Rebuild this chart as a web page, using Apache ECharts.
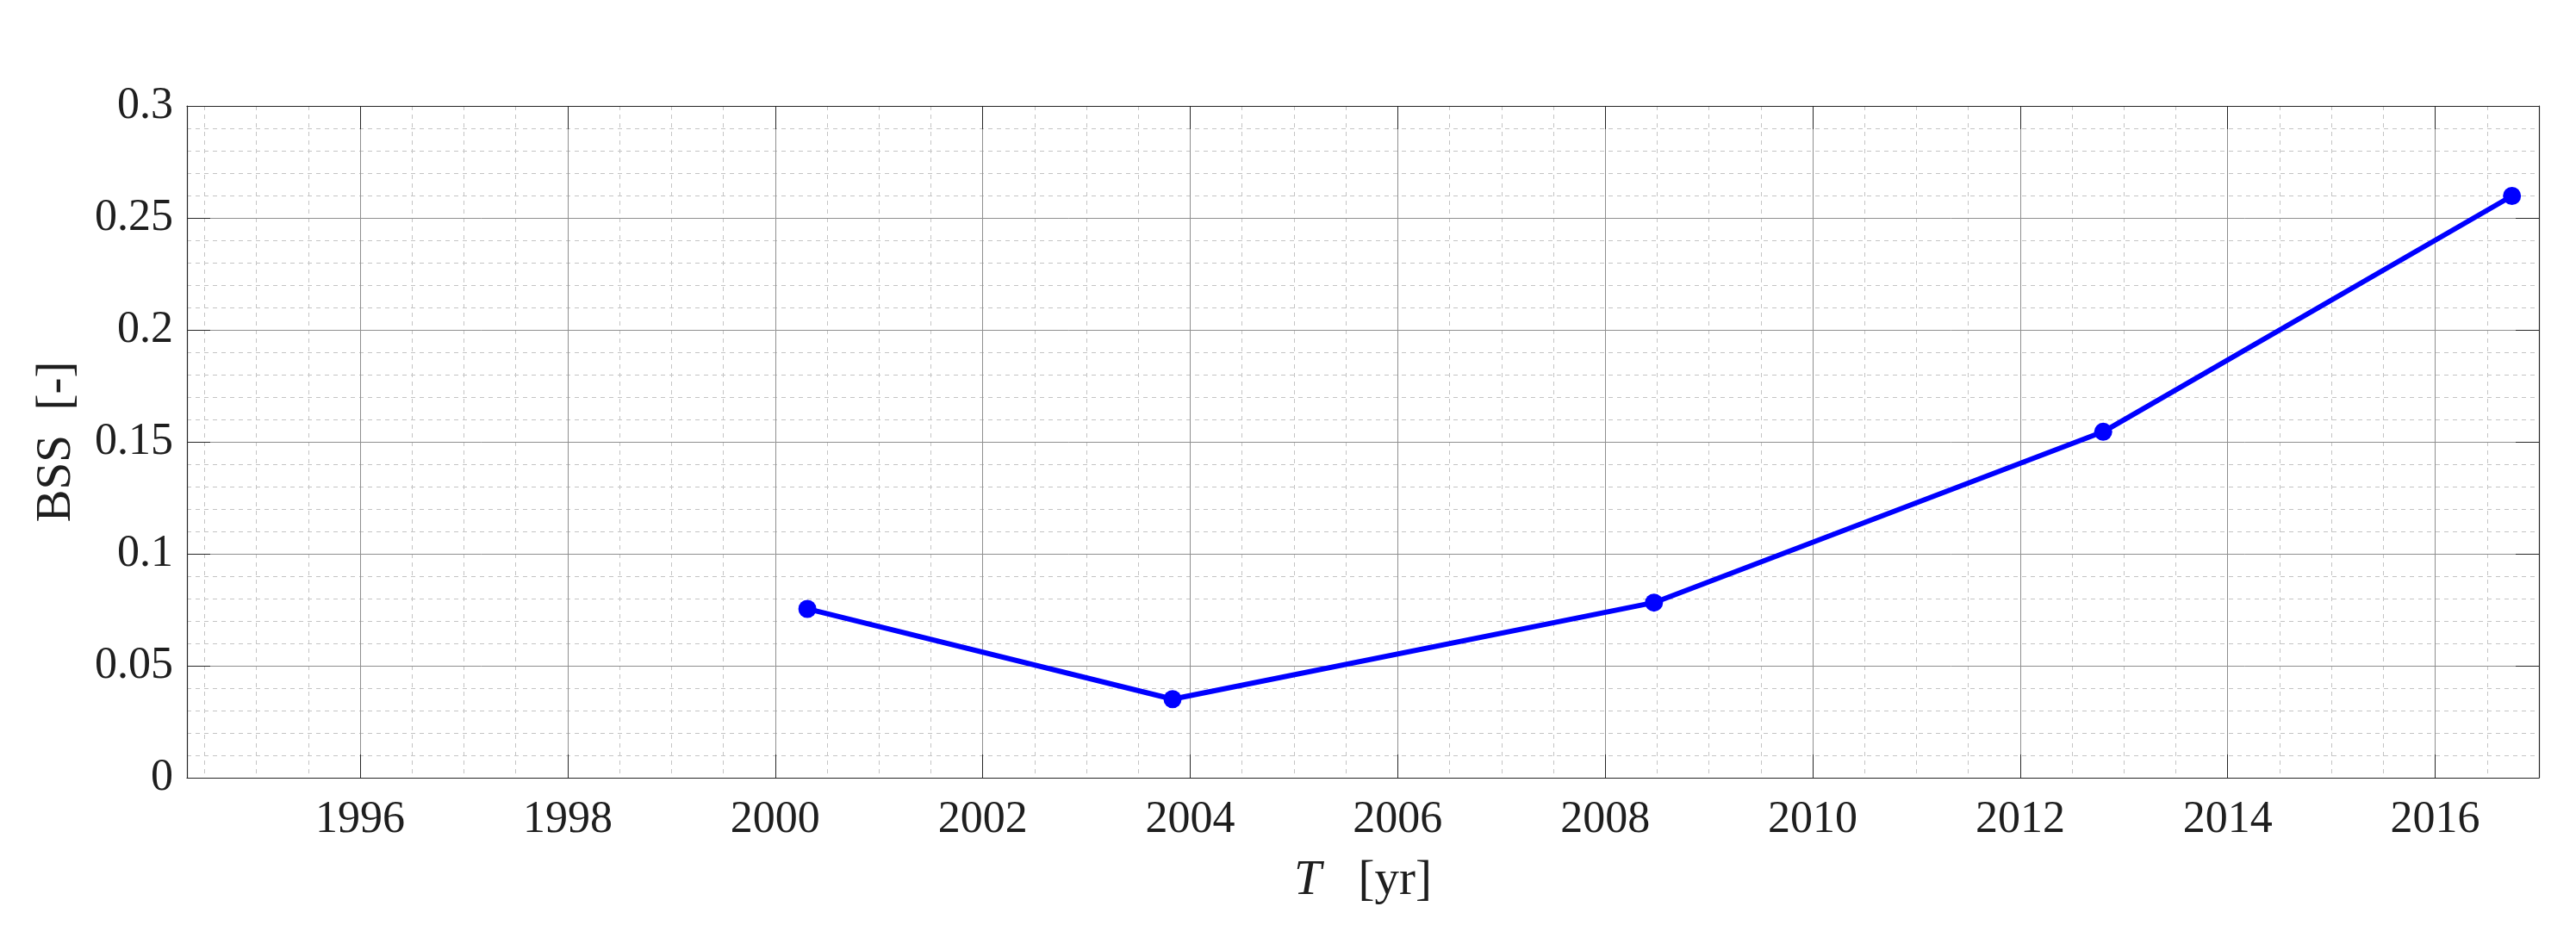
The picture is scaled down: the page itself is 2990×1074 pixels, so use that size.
<!DOCTYPE html>
<html>
<head>
<meta charset="utf-8">
<script src="https://cdn.jsdelivr.net/npm/echarts@6/dist/echarts.min.js"></script>
<style>
html,body{margin:0;padding:0;background:#fff;}
#c{width:2990px;height:1074px;}
</style>
</head>
<body>
<div id="c"></div>
<script>
// Data
const years = [2000.31, 2003.83, 2008.47, 2012.80, 2016.74];
const bss = [0.0754, 0.0351, 0.0782, 0.1545, 0.2598];
const xRange = [1994.33, 2017];
const yRange = [0, 0.3];
const yTickStep = 0.05;

const FONT = 'Liberation Serif';
const INK = '#1e1e1e';

const chart = echarts.init(document.getElementById('c'), null, {renderer: 'canvas'});

const tickCommon = {show: true, inside: true, length: 27, lineStyle: {color: '#262626', width: 1}};
const lineCommon = {show: true, onZero: false, lineStyle: {color: '#262626', width: 1.2}};

const xLabelFmt = v => (Math.abs(v - Math.round(v)) < 1e-6 && Math.round(v) % 2 === 0) ? String(Math.round(v)) : '';

const nameRich = {
  n: {fontFamily: FONT, fontSize: 57, color: INK},
  i: {fontFamily: FONT, fontSize: 57, fontStyle: 'italic', color: INK}
};

chart.setOption({
  animation: false,
  backgroundColor: '#ffffff',
  textStyle: {fontFamily: FONT},
  grid: {left: 217, top: 123, width: 2730, height: 780, containLabel: false},
  xAxis: [
    {
      type: 'value', min: xRange[0], max: xRange[1], splitNumber: 11,
      position: 'bottom', z: 1,
      axisLine: lineCommon,
      axisTick: tickCommon,
      axisLabel: {formatter: xLabelFmt, margin: 23, fontFamily: FONT, fontSize: 52, color: INK},
      splitLine: {show: true, lineStyle: {color: '#8f8f8f', width: 1}},
      name: '{i|T}{n|   [yr]}', nameLocation: 'middle', nameGap: 92,
      nameTextStyle: {fontFamily: FONT, fontSize: 57, color: INK, rich: nameRich}
    },
    {
      type: 'value', min: xRange[0], max: xRange[1], splitNumber: 11,
      position: 'top', z: 1,
      axisLine: lineCommon,
      axisTick: tickCommon,
      axisLabel: {show: false},
      splitLine: {show: false}
    },
    {
      type: 'value', min: xRange[0], max: xRange[1], splitNumber: 45,
      position: 'bottom', z: 0,
      axisLine: {show: false}, axisTick: {show: false}, axisLabel: {show: false},
      splitLine: {show: true, lineStyle: {color: '#c4c4c4', width: 1, type: [5, 5]}}
    }
  ],
  yAxis: [
    {
      type: 'value', min: yRange[0], max: yRange[1], interval: yTickStep,
      position: 'left', z: 1,
      axisLine: lineCommon,
      axisTick: tickCommon,
      axisLabel: {margin: 16, fontFamily: FONT, fontSize: 52, color: INK},
      splitLine: {show: true, lineStyle: {color: '#8f8f8f', width: 1}},
      minorTick: {show: false, splitNumber: 5},
      minorSplitLine: {show: true, lineStyle: {color: '#c4c4c4', width: 1, type: [5, 5]}},
      name: '{n|BSS  [-]}', nameLocation: 'middle', nameGap: 122,
      nameTextStyle: {fontFamily: FONT, fontSize: 57, color: INK, rich: nameRich}
    },
    {
      type: 'value', min: yRange[0], max: yRange[1], interval: yTickStep,
      position: 'right', z: 1,
      axisLine: lineCommon,
      axisTick: tickCommon,
      axisLabel: {show: false},
      splitLine: {show: false}
    }
  ],
  series: [{
    type: 'line',
    xAxisIndex: 0, yAxisIndex: 0,
    data: years.map((y, i) => [y, bss[i]]),
    symbol: 'circle', symbolSize: 21, showSymbol: true,
    lineStyle: {color: '#0000ff', width: 6},
    itemStyle: {color: '#0000ff'},
    z: 5
  }]
});
</script>
</body>
</html>
